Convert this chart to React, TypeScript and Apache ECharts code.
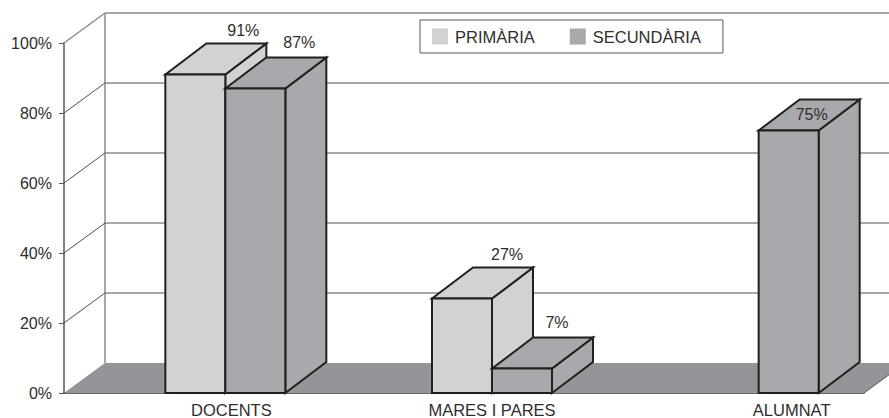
import React, { useEffect, useRef } from "react";
import * as echarts from "echarts";

const categories = ["DOCENTS", "MARES I PARES", "ALUMNAT"];
const primaria: (number | null)[] = [91, 27, null];
const secundaria: (number | null)[] = [87, 7, 75];
const yTicks = [0, 20, 40, 60, 80, 100];

const FONT = "Liberation Sans";
const TEXT = "#2f2d2e";
const EDGE = "#231f20";
const C_PRIM = "#d1d2d4";
const C_SEC = "#a7a9ac";
const C_FLOOR = "#939598";
const C_GRID = "#8a8b8d";

const DX = 41;
const DY = 31;
const BAR_W = 60;
const CENTER_SHIFT = 28;

// label nudges relative to the bar's front top-right corner, per series and category
const primLabelNudge = [[18, -44], [15, -44], [0, 0]];
const secLabelNudge = [[14, -46], [5, -46], [-7, -16]];
// horizontal shift of each category label, expressed as left padding of the centred text
const catLabelPad = [68, 56, 122];

function polygon(points: number[][], fill: string, stroke: string, lineWidth: number) {
  return {
    type: "polygon",
    shape: { points },
    style: { fill, stroke, lineWidth, lineJoin: "miter" },
  };
}

function makeBar(color: string, barOffset: number, nudges: number[][]) {
  return (_params: any, api: any) => {
    const cat = api.value(0);
    const val = api.value(1);
    const top = api.coord([cat, val]);
    const bottom = api.coord([cat, 0]);
    const x0 = top[0] + CENTER_SHIFT + barOffset;
    const x1 = x0 + BAR_W;
    const yT = top[1];
    const yB = bottom[1];
    const n = nudges[cat];
    return {
      type: "group",
      children: [
        polygon([[x1, yB], [x1 + DX, yB - DY], [x1 + DX, yT - DY], [x1, yT]], color, EDGE, 2),
        polygon([[x0, yT], [x0 + DX, yT - DY], [x1 + DX, yT - DY], [x1, yT]], color, EDGE, 2),
        polygon([[x0, yB], [x1, yB], [x1, yT], [x0, yT]], color, EDGE, 2),
        {
          type: "text",
          x: x1 + n[0],
          y: yT + n[1],
          style: {
            text: `${val}%`,
            fill: TEXT,
            font: `16px "${FONT}"`,
            align: "center",
            verticalAlign: "middle",
          },
        },
      ],
    };
  };
}

function renderWalls(params: any, api: any) {
  const cs = params.coordSys;
  const xL = cs.x;
  const xR = cs.x + cs.width;
  const y0 = api.coord([0, 0])[1];
  const children: any[] = [
    polygon([[xL, y0], [xL + DX, y0 - 30], [xR + DX, y0 - 30], [xR, y0]], C_FLOOR, "none", 0),
    {
      type: "line",
      shape: { x1: xL + DX, y1: api.coord([0, 100])[1] - 30, x2: xL + DX, y2: y0 - 30 },
      style: { stroke: C_GRID, lineWidth: 1.5 },
    },
  ];
  yTicks.forEach((t) => {
    const y = api.coord([0, t])[1];
    if (t > 0) {
      children.push({
        type: "line",
        shape: { x1: xL + DX, y1: y - 30, x2: xR + DX, y2: y - 30 },
        style: { stroke: C_GRID, lineWidth: 1.5 },
      });
      children.push({
        type: "line",
        shape: { x1: xL, y1: y, x2: xL + DX, y2: y - 30 },
        style: { stroke: t === 100 ? C_GRID : EDGE, lineWidth: t === 100 ? 1.5 : 0.8 },
      });
    }
  });
  children.push({
    type: "line",
    shape: { x1: xR, y1: y0, x2: xR + DX, y2: y0 - 30 },
    style: { stroke: "#555658", lineWidth: 1 },
  });
  return { type: "group", children };
}

const toData = (arr: (number | null)[]) =>
  arr.map((v, i) => [i, v]).filter((d) => d[1] !== null);

const catRich = (pad: number) => ({
  padding: [0, 0, 0, pad],
  fontFamily: FONT,
  fontSize: 16.5,
  lineHeight: 15,
  color: TEXT,
});

export default function App() {
  const ref = useRef<HTMLDivElement>(null);
  useEffect(() => {
    const chart = echarts.init(ref.current!, null, { renderer: "svg" });
    chart.setOption({
      animation: false,
      backgroundColor: "#ffffff",
      textStyle: { fontFamily: FONT },
      grid: { left: 64, top: 43, width: 800, height: 350, outerBoundsMode: "none" },
      legend: {
        left: 420,
        top: 20,
        data: ["PRIMÀRIA", "SECUNDÀRIA"],
        icon: "rect",
        itemWidth: 16,
        itemHeight: 16,
        itemGap: 35,
        padding: [8, 22, 8, 12],
        borderColor: "#58595b",
        borderWidth: 1,
        backgroundColor: "#ffffff",
        textStyle: { fontFamily: FONT, fontSize: 16.5, color: TEXT, padding: [0, 0, 0, 2] },
        selectedMode: false,
        z: 10,
      },
      xAxis: {
        type: "category",
        data: categories,
        axisLine: { lineStyle: { color: "#3a3839", width: 1.5 } },
        axisTick: { length: 5, lineStyle: { color: "#77787a", width: 1 } },
        axisLabel: {
          margin: 9,
          color: TEXT,
          fontFamily: FONT,
          fontSize: 16.5,
          lineHeight: 15,
          interval: 0,
          formatter: (v: string) => `{c${categories.indexOf(v)}|${v}}`,
          rich: {
            c0: catRich(catLabelPad[0]),
            c1: catRich(catLabelPad[1]),
            c2: catRich(catLabelPad[2]),
          },
        },
      },
      yAxis: {
        type: "value",
        min: 0,
        max: 100,
        interval: 20,
        axisLine: { show: true, lineStyle: { color: "#58595b", width: 1.5 } },
        axisTick: { show: true, length: 5, lineStyle: { color: "#58595b", width: 1 } },
        splitLine: { show: false },
        axisLabel: {
          margin: 12,
          color: TEXT,
          fontFamily: FONT,
          fontSize: 16,
          formatter: (v: number) => `${v}%`,
        },
      },
      series: [
        { type: "custom", name: "walls", silent: true, z: 1, renderItem: renderWalls, data: [[0, 0]] },
        {
          type: "custom",
          name: "PRIMÀRIA",
          z: 2,
          itemStyle: { color: C_PRIM },
          renderItem: makeBar(C_PRIM, -BAR_W, primLabelNudge),
          encode: { x: 0, y: 1 },
          data: toData(primaria),
        },
        {
          type: "custom",
          name: "SECUNDÀRIA",
          z: 3,
          itemStyle: { color: C_SEC },
          renderItem: makeBar(C_SEC, 0, secLabelNudge),
          encode: { x: 0, y: 1 },
          data: toData(secundaria),
        },
      ],
    });
    return () => chart.dispose();
  }, []);
  return (
    <div
      ref={ref}
      style={{ position: "absolute", left: 0, top: 0, width: 889, height: 418 }}
    />
  );
}
